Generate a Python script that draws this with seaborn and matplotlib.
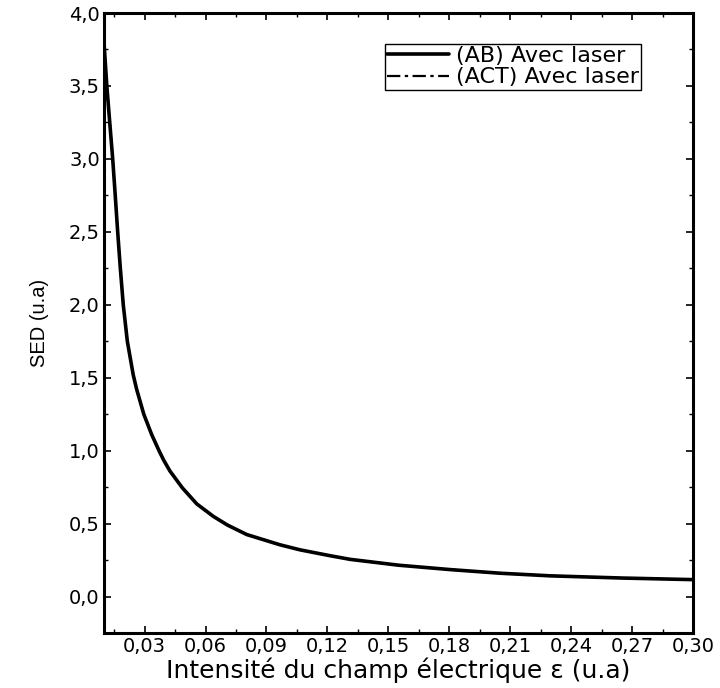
import matplotlib
matplotlib.use("Agg")
import matplotlib.pyplot as plt
from matplotlib.ticker import MultipleLocator, FuncFormatter
import seaborn as sns
import pandas as pd

# Electric field intensity (u.a)
field = [0.0100, 0.0114, 0.0129, 0.0143, 0.0155, 0.0167, 0.0180, 0.0195,
         0.0215, 0.0244, 0.0261, 0.0296, 0.0335, 0.0371, 0.0394, 0.0425,
         0.0486, 0.0557, 0.0638, 0.0708, 0.0803, 0.0966, 0.1066, 0.1213,
         0.1312, 0.1550, 0.1803, 0.2050, 0.2297, 0.2650, 0.3000]
# SED (u.a), AB model with laser
sed_ab = [3.80, 3.50, 3.24, 3.00, 2.76, 2.51, 2.26, 2.00,
          1.75, 1.52, 1.42, 1.25, 1.11, 1.00, 0.935, 0.86,
          0.745, 0.635, 0.55, 0.49, 0.425, 0.355, 0.32, 0.28,
          0.255, 0.215, 0.185, 0.16, 0.142, 0.127, 0.116]
# SED (u.a), ACT model with laser
sed_act = [3.80, 3.50, 3.24, 3.00, 2.76, 2.51, 2.26, 2.00,
           1.75, 1.52, 1.42, 1.25, 1.11, 1.00, 0.935, 0.86,
           0.745, 0.635, 0.55, 0.49, 0.425, 0.355, 0.32, 0.28,
           0.255, 0.215, 0.185, 0.16, 0.142, 0.127, 0.116]

label_ab = "(AB) Avec laser"
label_act = "(ACT) Avec laser"
x_ticks = [0.03, 0.06, 0.09, 0.12, 0.15, 0.18, 0.21, 0.24, 0.27, 0.30]
y_ticks = [0.0, 0.5, 1.0, 1.5, 2.0, 2.5, 3.0, 3.5, 4.0]

sns.set_theme(style="white")
plt.rcParams["font.family"] = ["DejaVu Sans"]
plt.rcParams["text.color"] = "black"
plt.rcParams["axes.labelcolor"] = "black"

df = pd.concat([
    pd.DataFrame({"E": field, "SED": sed_ab, "serie": label_ab}),
    pd.DataFrame({"E": field, "SED": sed_act, "serie": label_act}),
])

fig = plt.figure(figsize=(7.2, 6.88), dpi=100)
ax = fig.add_axes([0.1444, 0.0799, 0.8181, 0.9012])

sns.lineplot(data=df[df.serie == label_act], x="E", y="SED", ax=ax,
             color="black", linewidth=1.6, linestyle=(0, (6, 2, 1.5, 2)),
             label=label_act, sort=False)
sns.lineplot(data=df[df.serie == label_ab], x="E", y="SED", ax=ax,
             color="black", linewidth=2.6, label=label_ab, sort=False)

ax.set_xlim(0.01, 0.30)
ax.set_ylim(-0.25, 4.0)
ax.set_xticks(x_ticks)
ax.set_yticks(y_ticks)
ax.xaxis.set_minor_locator(MultipleLocator(0.015))
ax.yaxis.set_minor_locator(MultipleLocator(0.25))
ax.xaxis.set_major_formatter(FuncFormatter(lambda v, p: f"{v:.2f}".replace(".", ",")))
ax.yaxis.set_major_formatter(FuncFormatter(lambda v, p: f"{v:.1f}".replace(".", ",")))

ax.tick_params(which="both", direction="in", top=True, right=True,
               bottom=True, left=True, color="black", labelsize=14,
               labelcolor="black")
ax.tick_params(which="major", length=5, width=1.2)
ax.tick_params(axis="x", which="major", pad=3)
ax.tick_params(axis="y", which="major", pad=3)
ax.tick_params(which="minor", length=3, width=1.0)
for s in ax.spines.values():
    s.set_color("black")
    s.set_linewidth(2.2)

ax.set_xlabel("Intensité du champ électrique ε (u.a)", fontsize=18,
              color="black", labelpad=1)
ax.set_ylabel("SED (u.a)", fontsize=14.5, color="black", labelpad=14,
              family=["Liberation Sans Narrow", "Liberation Sans"])

handles, labels = ax.get_legend_handles_labels()
order = [labels.index(label_ab), labels.index(label_act)]
leg = ax.legend([handles[i] for i in order], [labels[i] for i in order],
                loc="upper right", bbox_to_anchor=(0.912, 0.950),
                fontsize=16, frameon=True, fancybox=False, framealpha=1,
                edgecolor="black", handlelength=2.8, handletextpad=0.3,
                borderpad=0.1, labelspacing=0.05, borderaxespad=0)
leg.get_frame().set_linewidth(1.0)
for t in leg.get_texts():
    t.set_color("black")

fig.savefig("out.png", dpi=100)
